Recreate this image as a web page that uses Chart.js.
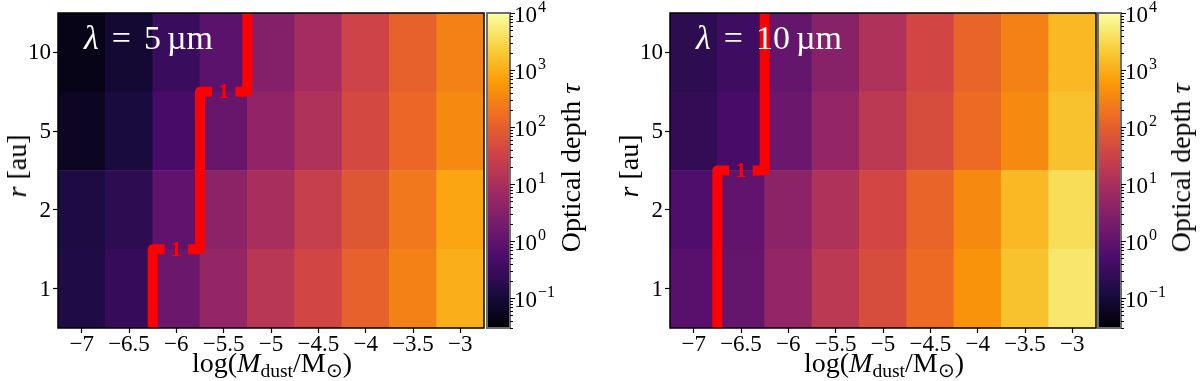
<!DOCTYPE html>
<html>
<head>
<meta charset="utf-8">
<script src="https://cdn.jsdelivr.net/npm/chart.js@4.4.1/dist/chart.umd.min.js"></script>
<style>
  body { margin: 0; background: #fff; }
  #wrap { position: relative; width: 1200px; height: 381px; overflow: hidden; font-family: "Liberation Serif", serif; }
  canvas { position: absolute; top: 0; }
  .lbl { position: absolute; white-space: nowrap; color: #000; font-size: 28px; line-height: 1; transform: translate(-50%, -50%); }
  .rot { transform: translate(-50%, -50%) rotate(-90deg); }
  .lam { color: #fff; font-size: 34px; transform: none; }
  .lam .eq { margin: 0 13px; }
  .lam .u { margin-left: 6px; }
  sub { font-size: 70%; vertical-align: -0.25em; line-height: 0; }
</style>
</head>
<body>
<div id="wrap">
  <canvas id="map5" width="492" height="381" style="left:0"></canvas>
  <canvas id="cb5" width="110" height="381" style="left:482px"></canvas>
  <canvas id="map10" width="492" height="381" style="left:612px"></canvas>
  <canvas id="cb10" width="100" height="381" style="left:1093px"></canvas>

  <div class="lbl rot" style="left:17px; top:166px"><i>r</i> [au]</div>
  <div class="lbl rot" style="left:629px; top:166px"><i>r</i> [au]</div>
  <div class="lbl" style="left:272px; top:363px">log(<i>M</i><sub>dust</sub>/M<sub>⊙</sub>)</div>
  <div class="lbl" style="left:884px; top:363px">log(<i>M</i><sub>dust</sub>/M<sub>⊙</sub>)</div>
  <div class="lbl rot" style="left:571px; top:168px">Optical depth <i>τ</i></div>
  <div class="lbl rot" style="left:1181px; top:168px">Optical depth <i>τ</i></div>
  <div class="lbl lam" style="left:84px; top:21px"><i>λ</i><span class="eq">=</span>5<span class="u">µm</span></div>
  <div class="lbl lam" style="left:696px; top:21px"><i>λ</i><span class="eq">=</span>10<span class="u">µm</span></div>
</div>
<script>
// x: log dust mass (cell centres), y: radius rows from bottom to top
const massTicks = [-7, -6.5, -6, -5.5, -5, -4.5, -4, -3.5, -3];
const radiusLabels = ['1', '2', '5', '10'];

// optical depth at 5 micron, one array per radius
const tau5_r1 = [0.14, 0.27, 1.4, 5.0, 16, 38, 105, 290, 1000];
const tau5_r2 = [0.13, 0.21, 0.95, 3.9, 9.4, 26, 72, 220, 790];
const tau5_r5 = [0.059, 0.11, 0.45, 1.25, 4.4, 12, 43, 135, 370];
const tau5_r10 = [0.046, 0.087, 0.31, 0.85, 3.0, 8.3, 34, 105, 290];

// optical depth at 10 micron
const tau10_r1 = [0.75, 1.1, 5.0, 18, 49, 150, 480, 1700, 4700];
const tau10_r2 = [0.58, 1.05, 3.9, 12, 38, 120, 370, 1300, 3600];
const tau10_r5 = [0.24, 0.45, 1.4, 5.0, 18, 49, 150, 370, 1700];
const tau10_r10 = [0.21, 0.35, 1.1, 3.4, 12, 38, 120, 290, 1300];

const tauMin = 0.03;
const tauMax = 1e4;
const contourLevel = 1;

const FONT = '"Liberation Serif", serif';
Chart.defaults.font.family = FONT;
Chart.defaults.color = '#000';

// inferno colormap
const inferno = ['#000004', '#1b0c42', '#4b0c6b', '#781c6d', '#a52c60',
                 '#cf4446', '#ed6925', '#fb9a06', '#f7d03c', '#fcffa4'];

function hexToRgb(h) {
  return [parseInt(h.slice(1, 3), 16), parseInt(h.slice(3, 5), 16), parseInt(h.slice(5, 7), 16)];
}

function tauColor(tau) {
  let t = (Math.log10(tau) - Math.log10(tauMin)) / (Math.log10(tauMax) - Math.log10(tauMin));
  t = Math.min(1, Math.max(0, t));
  const pos = t * (inferno.length - 1);
  const i = Math.min(inferno.length - 2, Math.floor(pos));
  const f = pos - i;
  const a = hexToRgb(inferno[i]), b = hexToRgb(inferno[i + 1]);
  const c = a.map((v, k) => Math.round(v + (b[k] - v) * f));
  return `rgb(${c[0]},${c[1]},${c[2]})`;
}

function minusSign(v) {
  return String(v).replace('-', '\u2212');
}

// black frame round the plot area
const framePlugin = {
  id: 'frame',
  afterDraw(chart, args, opts) {
    const { ctx, chartArea: a } = chart;
    ctx.save();
    ctx.strokeStyle = opts.color || '#000';
    ctx.lineWidth = opts.width || 1.5;
    ctx.strokeRect(a.left, a.top, a.right - a.left, a.bottom - a.top);
    ctx.restore();
  }
};

// serif tick labels, placed with the chart's own scales
const tickLabelPlugin = {
  id: 'tickLabels',
  afterDraw(chart) {
    const { ctx, chartArea: a } = chart;
    const xs = chart.scales.x, ys = chart.scales.y;
    ctx.save();
    ctx.fillStyle = '#000';
    ctx.font = '23px ' + FONT;
    ctx.textAlign = 'center';
    ctx.textBaseline = 'top';
    xs.ticks.forEach(t => ctx.fillText(minusSign(t.value), xs.getPixelForValue(t.value), a.bottom + 5));
    ctx.textAlign = 'right';
    ctx.textBaseline = 'middle';
    ys.ticks.forEach((t, i) => ctx.fillText(radiusLabels[i], a.left - 7, ys.getPixelForValue(t.value) + 1));
    ctx.restore();
  }
};

// tau = 1 contour along cell edges, with the "1" label cut into the steps
const contourPlugin = {
  id: 'contour',
  afterDatasetsDraw(chart, args, opts) {
    const rows = opts.rows;
    if (!rows) return;
    const xs = chart.scales.x, ys = chart.scales.y;
    const half = (massTicks[1] - massTicks[0]) / 2;
    const edges = rows.map(vals => {
      const j = vals.findIndex(v => v >= contourLevel);
      return massTicks[j] - half;
    });
    const { ctx, chartArea: a } = chart;
    const stub = 12;
    ctx.save();
    ctx.beginPath();
    ctx.rect(a.left, a.top, a.right - a.left, a.bottom - a.top);
    ctx.clip();
    ctx.strokeStyle = '#ff0000';
    ctx.lineWidth = 10;
    ctx.lineJoin = 'round';
    ctx.lineCap = 'butt';
    ctx.fillStyle = '#ff0000';
    ctx.font = 'bold 22px ' + FONT;
    ctx.textAlign = 'center';
    ctx.textBaseline = 'middle';

    let x = xs.getPixelForValue(edges[0]);
    ctx.beginPath();
    ctx.moveTo(x, ys.getPixelForValue(0));
    for (let i = 1; i < edges.length; i++) {
      if (edges[i] === edges[i - 1]) continue;
      const yb = ys.getPixelForValue(i);
      const xn = xs.getPixelForValue(edges[i]);
      const dir = Math.sign(xn - x);
      ctx.lineTo(x, yb);
      ctx.lineTo(x + dir * stub, yb);
      ctx.stroke();
      ctx.fillText('1', (x + xn) / 2, yb + 1);
      ctx.beginPath();
      ctx.moveTo(xn - dir * stub, yb);
      ctx.lineTo(xn, yb);
      x = xn;
    }
    ctx.lineTo(x, ys.getPixelForValue(rows.length));
    ctx.stroke();
    ctx.restore();
  }
};

function makeMap(id, rows) {
  new Chart(document.getElementById(id), {
    type: 'bar',
    data: {
      datasets: rows.map((vals, i) => ({
        label: 'r = ' + radiusLabels[i] + ' au',
        data: massTicks.map(m => ({ x: m, y: 1 })),
        backgroundColor: vals.map(tauColor),
        borderWidth: 0,
        barPercentage: 1,
        categoryPercentage: 1
      }))
    },
    options: {
      responsive: false,
      animation: false,
      layout: { padding: { top: 13, right: 8, left: 0, bottom: 0 } },
      plugins: {
        legend: { display: false },
        tooltip: { enabled: false },
        frame: { color: '#000', width: 1.5 },
        contour: { rows }
      },
      scales: {
        x: {
          type: 'linear', stacked: true, offset: false,
          min: massTicks[0] - 0.25, max: massTicks[massTicks.length - 1] + 0.25,
          afterBuildTicks: s => { s.ticks = massTicks.map(v => ({ value: v })); },
          ticks: { display: false },
          grid: { offset: false, drawOnChartArea: false, tickLength: 5, tickColor: '#000', tickWidth: 1.2 },
          border: { display: false },
          afterFit: s => { s.height = 53; }
        },
        y: {
          type: 'linear', stacked: true, min: 0, max: radiusLabels.length,
          afterBuildTicks: s => { s.ticks = radiusLabels.map((l, i) => ({ value: i + 0.5 })); },
          ticks: { display: false },
          grid: { drawOnChartArea: false, tickLength: 5, tickColor: '#000', tickWidth: 1.2 },
          border: { display: false },
          afterFit: s => { s.width = 58; }
        }
      }
    },
    plugins: [framePlugin, contourPlugin, tickLabelPlugin]
  });
}

// colour bar ticks: long marks and 10^n labels at decades, short marks between
const cbTicksPlugin = {
  id: 'cbTicks',
  afterDraw(chart) {
    const { ctx, chartArea: a } = chart;
    const ys = chart.scales.y;
    ctx.save();
    ctx.strokeStyle = '#000';
    ctx.fillStyle = '#000';
    ctx.lineWidth = 1;
    ctx.textBaseline = 'middle';
    ys.ticks.forEach(t => {
      const y = Math.round(ys.getPixelForValue(t.value)) + 0.5;
      const e = Math.round(Math.log10(t.value));
      const major = Math.abs(Math.log10(t.value) - e) < 1e-6;
      ctx.beginPath();
      ctx.moveTo(a.right, y);
      ctx.lineTo(a.right + (major ? 5 : 3), y);
      ctx.stroke();
      if (major) {
        ctx.font = '23px ' + FONT;
        ctx.textAlign = 'left';
        const x0 = a.right + 4;
        ctx.fillText('10', x0, y + 2);
        const w = ctx.measureText('10').width;
        ctx.font = '16px ' + FONT;
        ctx.fillText(minusSign(e), x0 + w + 1, y - 6);
      }
    });
    ctx.restore();
  }
};

function makeColorbar(id, axisWidth) {
  new Chart(document.getElementById(id), {
    type: 'bar',
    data: {
      labels: ['tau'],
      datasets: [{
        data: [[tauMin, tauMax]],
        backgroundColor: c => {
          const area = c.chart.chartArea;
          if (!area) return '#000';
          const g = c.chart.ctx.createLinearGradient(0, area.bottom, 0, area.top);
          inferno.forEach((col, i) => g.addColorStop(i / (inferno.length - 1), col));
          return g;
        },
        borderWidth: 0,
        barPercentage: 1,
        categoryPercentage: 1
      }]
    },
    options: {
      responsive: false,
      animation: false,
      layout: { padding: { top: 13, left: 5, right: 0, bottom: 53 } },
      plugins: { legend: { display: false }, tooltip: { enabled: false }, frame: { color: '#6e6e6e', width: 2 } },
      scales: {
        x: { display: false },
        y: {
          type: 'logarithmic', position: 'right', min: tauMin, max: tauMax,
          afterBuildTicks: s => {
            const t = [];
            for (let e = -2; e <= 4; e++) {
              for (let m = 1; m <= 9; m++) {
                const v = m * Math.pow(10, e);
                if (v >= tauMin * 0.999 && v <= tauMax * 1.001) t.push({ value: v });
              }
            }
            s.ticks = t;
          },
          ticks: { display: false },
          grid: { drawOnChartArea: false, drawTicks: false },
          border: { display: false },
          afterFit: s => { s.width = axisWidth; }
        }
      }
    },
    plugins: [framePlugin, cbTicksPlugin]
  });
}

makeMap('map5', [tau5_r1, tau5_r2, tau5_r5, tau5_r10]);
makeColorbar('cb5', 82);
makeMap('map10', [tau10_r1, tau10_r2, tau10_r5, tau10_r10]);
makeColorbar('cb10', 72);
</script>
</body>
</html>
